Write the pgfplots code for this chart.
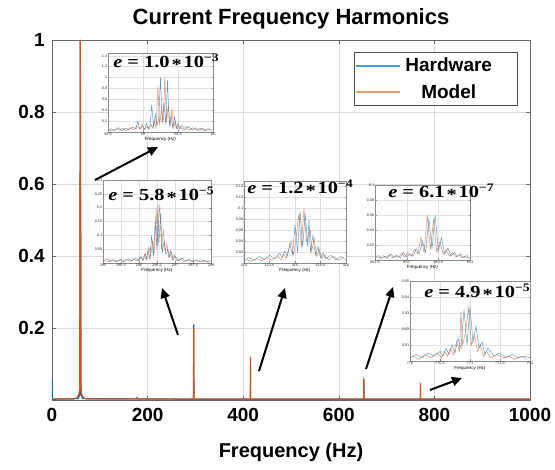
\documentclass[border=0pt]{standalone}
\usepackage{pgfplots}
\pgfplotsset{compat=1.18}
\usepackage{fontspec}
\setmainfont{Liberation Sans}
\newfontfamily\eqfont{Liberation Serif}[FakeStretch=1.2]
\usetikzlibrary{arrows.meta}
\definecolor{mblue}{rgb}{0,0.447,0.741}
\definecolor{lblue}{rgb}{0.25,0.62,0.9}
\definecolor{morange}{rgb}{0.85,0.325,0.098}
\pgfplotsset{
 /pgf/number format/assume math mode=true,
 /pgf/number format/1000 sep={},
 inset/.style={scale only axis, anchor=south west,
   axis background/.style={fill=white},
   grid=major, major grid style={black!12, line width=0.25pt},
   axis line style={black!45, line width=0.35pt},
   tick style={black!45, line width=0.25pt}, major tick length=1.5pt, tick align=inside,
   ticklabel style={font=\fontsize{3.8}{4}\selectfont, text=black!85, inner sep=0.6pt},
   xlabel={Frequency (Hz)},
   xlabel style={font=\fontsize{4.5}{5}\selectfont, inner sep=0.6pt},
   ymin=0, scaled ticks=false,
   tick label style={/pgf/number format/fixed, /pgf/number format/precision=3},
   every axis plot/.append style={line width=0.45pt, opacity=0.7},
 },
}
\newcommand{\eqn}[2]{{\eqfont\bfseries\fontsize{17}{19}\selectfont\textit{e}\hspace{0.3em}=\hspace{0.3em}#1\hspace{0.12em}\raisebox{-0.3ex}{*}\hspace{0.1em}10\raisebox{0.85ex}{\fontsize{11.5}{12}\selectfont −#2}}}
\begin{document}
\begin{tikzpicture}
\path[use as bounding box] (-52pt,-70pt) rectangle (503pt,400pt);
\begin{axis}[at={(0pt,0pt)}, anchor=south west, scale only axis,
  width=478pt, height=360pt,
  xmin=0, xmax=1000, ymin=0, ymax=1,
  xtick={0,200,...,1000}, ytick={0.2,0.4,0.6,0.8,1},
  grid=major, major grid style={black!15, line width=0.5pt},
  axis line style={black!60, line width=0.8pt},
  tick style={black!60, line width=0.6pt}, major tick length=4pt, tick align=inside,
  ticklabel style={font=\bfseries\fontsize{19}{20}\selectfont},
  xticklabel style={anchor=base, yshift=-22pt},
  yticklabel style={anchor=east, inner sep=0pt, xshift=-7pt},
  title={Current Frequency Harmonics},
  title style={font=\bfseries\fontsize{22}{24}\selectfont, at={(axis description cs:0.5,1)}, anchor=south, inner sep=0pt, yshift=5pt},
  xlabel={Frequency (Hz)},
  xlabel style={font=\bfseries\fontsize{20}{22}\selectfont, at={(axis description cs:0.5,0)}, anchor=base, yshift=-58pt},
  legend style={at={(0.975,0.967)}, anchor=north east, draw=black!70, line width=0.6pt,
    font=\bfseries\fontsize{19}{20}\selectfont, inner xsep=1pt, inner ysep=4pt, row sep=7pt, column sep=0pt},
]
\addplot[mblue, line width=1.2pt, legend image code/.code={\draw[draw=lblue, line width=1.4pt] (0pt,0pt) -- (44pt,0pt);}] table[row sep=\\] {
x y\\ 0 0.06\\ 0.6 0.002\\ 55 0.004\\ 58 0.015\\ 59.25 1.0\\ 60.5 0.015\\ 64 0.004\\
296 0.002\\ 296.5 0.21\\ 297 0.002\\ 415 0.002\\ 415.1 0.095\\ 415.3 0.002\\
652 0.002\\ 652.45 0.06\\ 652.8 0.002\\ 770.8 0.002\\ 771 0.034\\ 771.2 0.002\\ 1000 0.002\\
};
\addlegendentry{\makebox[112pt][l]{\makebox[92pt][c]{Hardware}}}
\addplot[morange, line width=1.2pt, legend image code/.code={\draw[draw=morange!60, line width=1.4pt] (0pt,0pt) -- (44pt,0pt);}] table[row sep=\\] {
x y\\ 0 0.003\\ 45 0.003\\ 52 0.006\\ 56 0.015\\ 58 0.03\\ 59.3 1.0\\ 60.7 0.03\\ 62 0.015\\ 66 0.006\\ 72 0.003\\
176 0.003\\ 178 0.007\\ 180 0.003\\ 296.2 0.003\\ 296.55 0.2\\ 296.9 0.003\\
414.9 0.003\\ 415.15 0.12\\ 415.4 0.003\\ 652.1 0.003\\ 652.35 0.06\\ 652.6 0.003\\
770.7 0.003\\ 770.9 0.047\\ 771.1 0.003\\ 1000 0.003\\
};
\addlegendentry{\makebox[112pt][l]{\makebox[92pt][c]{Model}}}
\end{axis}

% inset 1
\begin{axis}[inset, at={(56pt,268pt)}, width=105pt, height=79pt,
  xmin=58.5, xmax=60, ymax=1.45, xtick={58.5,59,59.5,60}, ytick={0.2,0.4,...,1.4}]
\addplot[mblue] table[row sep=\\] {
x y\\ 58.50 0.02\\ 58.55 0.06\\ 58.60 0.03\\ 58.65 0.08\\ 58.70 0.02\\ 58.75 0.07\\ 58.80 0.04\\ 58.85 0.09\\
58.90 0.05\\ 58.925 0.20\\ 58.95 0.06\\ 59.00 0.10\\ 59.025 0.05\\ 59.05 0.16\\ 59.075 0.06\\ 59.10 0.12\\
59.125 0.50\\ 59.15 0.10\\ 59.175 0.32\\ 59.20 0.12\\ 59.225 0.25\\ 59.25 1.00\\ 59.275 0.18\\ 59.30 0.55\\
59.325 0.14\\ 59.35 0.95\\ 59.375 0.12\\ 59.40 0.30\\ 59.425 0.08\\ 59.45 0.28\\ 59.475 0.06\\ 59.50 0.16\\
59.525 0.05\\ 59.55 0.12\\ 59.60 0.04\\ 59.65 0.10\\ 59.70 0.03\\ 59.75 0.08\\ 59.80 0.03\\ 59.85 0.07\\
59.90 0.02\\ 59.95 0.06\\ 60.00 0.03\\
};
\addplot[morange] table[row sep=\\] {
x y\\ 58.5125 0.04\\ 58.5625 0.02\\ 58.6125 0.06\\ 58.6625 0.03\\ 58.7125 0.07\\ 58.7625 0.02\\ 58.8125 0.08\\
58.8625 0.04\\ 58.9125 0.12\\ 58.9625 0.05\\ 58.9875 0.15\\ 59.0125 0.04\\ 59.0625 0.10\\ 59.0875 0.05\\
59.1125 0.14\\ 59.1375 0.07\\ 59.1625 0.20\\ 59.1875 0.08\\ 59.2125 0.85\\ 59.2375 0.12\\ 59.2625 0.40\\
59.2875 0.15\\ 59.3125 1.00\\ 59.3375 0.18\\ 59.3625 0.50\\ 59.3875 0.10\\ 59.4125 0.42\\ 59.4375 0.08\\
59.4625 0.20\\ 59.4875 0.05\\ 59.5125 0.12\\ 59.5625 0.04\\ 59.6125 0.10\\ 59.6625 0.03\\ 59.7125 0.08\\
59.7625 0.03\\ 59.8125 0.07\\ 59.8625 0.02\\ 59.9125 0.06\\ 59.9625 0.02\\
};
\end{axis}

% inset 2
\begin{axis}[inset, at={(51pt,137pt)}, width=108pt, height=83pt,
  xmin=295, xmax=298, ymax=0.3, xtick={295,295.5,...,298}, ytick={0.05,0.1,0.15,0.2,0.25,0.3}]
\addplot[mblue] table[row sep=\\] {
x y\\ 295.00 0.005\\ 295.10 0.015\\ 295.20 0.006\\ 295.30 0.012\\ 295.40 0.005\\ 295.50 0.014\\ 295.60 0.006\\
295.70 0.016\\ 295.80 0.007\\ 295.90 0.018\\ 296.00 0.008\\ 296.05 0.025\\ 296.10 0.010\\ 296.15 0.030\\
296.20 0.012\\ 296.25 0.045\\ 296.30 0.015\\ 296.35 0.10\\ 296.40 0.02\\ 296.45 0.15\\ 296.50 0.05\\
296.525 0.21\\ 296.55 0.06\\ 296.60 0.18\\ 296.65 0.04\\ 296.70 0.08\\ 296.75 0.03\\ 296.80 0.05\\
296.85 0.02\\ 296.90 0.04\\ 296.95 0.012\\ 297.00 0.025\\ 297.10 0.008\\ 297.20 0.018\\ 297.30 0.006\\
297.40 0.014\\ 297.50 0.005\\ 297.60 0.012\\ 297.70 0.005\\ 297.80 0.010\\ 297.90 0.004\\ 298.00 0.008\\
};
\addplot[morange] table[row sep=\\] {
x y\\ 295.05 0.008\\ 295.15 0.004\\ 295.25 0.012\\ 295.35 0.005\\ 295.45 0.010\\ 295.55 0.004\\ 295.65 0.012\\
295.75 0.006\\ 295.85 0.014\\ 295.95 0.008\\ 296.075 0.02\\ 296.125 0.010\\ 296.175 0.035\\ 296.225 0.012\\
296.275 0.06\\ 296.325 0.02\\ 296.375 0.08\\ 296.425 0.04\\ 296.475 0.20\\ 296.50 0.06\\ 296.575 0.21\\
296.625 0.05\\ 296.675 0.12\\ 296.725 0.04\\ 296.775 0.07\\ 296.825 0.02\\ 296.875 0.045\\ 296.925 0.01\\
296.975 0.03\\ 297.05 0.008\\ 297.15 0.015\\ 297.25 0.005\\ 297.35 0.012\\ 297.45 0.005\\ 297.55 0.010\\
297.65 0.004\\ 297.75 0.009\\ 297.85 0.004\\ 297.95 0.007\\
};
\end{axis}

% inset 3
\begin{axis}[inset, at={(192pt,137pt)}, width=102pt, height=82pt,
  xmin=414, xmax=416, ymax=0.15, xtick={414,414.5,...,416}, ytick={0.02,0.04,...,0.14}]
\addplot[mblue] table[row sep=\\] {
x y\\ 414.00 0.004\\ 414.10 0.010\\ 414.20 0.005\\ 414.30 0.012\\ 414.40 0.006\\ 414.50 0.014\\ 414.60 0.008\\
414.70 0.018\\ 414.75 0.010\\ 414.80 0.022\\ 414.85 0.012\\ 414.90 0.035\\ 414.95 0.015\\ 415.00 0.07\\
415.05 0.02\\ 415.10 0.095\\ 415.15 0.03\\ 415.20 0.09\\ 415.25 0.03\\ 415.275 0.08\\ 415.30 0.02\\
415.35 0.05\\ 415.40 0.015\\ 415.45 0.03\\ 415.50 0.010\\ 415.55 0.018\\ 415.60 0.008\\ 415.70 0.014\\
415.80 0.006\\ 415.90 0.012\\ 416.00 0.005\\
};
\addplot[morange] table[row sep=\\] {
x y\\ 414.05 0.006\\ 414.15 0.003\\ 414.25 0.008\\ 414.35 0.004\\ 414.45 0.010\\ 414.55 0.005\\ 414.65 0.012\\
414.725 0.006\\ 414.775 0.016\\ 414.825 0.008\\ 414.875 0.025\\ 414.925 0.04\\ 414.975 0.015\\ 415.025 0.05\\
415.075 0.09\\ 415.125 0.03\\ 415.175 0.10\\ 415.225 0.04\\ 415.30 0.06\\ 415.325 0.02\\ 415.375 0.045\\
415.425 0.012\\ 415.475 0.025\\ 415.525 0.008\\ 415.575 0.015\\ 415.65 0.006\\ 415.75 0.012\\ 415.85 0.005\\
415.95 0.010\\
};
\end{axis}

% inset 4
\begin{axis}[inset, at={(323pt,140pt)}, width=95pt, height=75pt,
  xmin=651.5, xmax=653, ymax=0.1, xtick={651.5,652,652.5,653}, ytick={0.02,0.04,...,0.1}]
\addplot[mblue] table[row sep=\\] {
x y\\ 651.50 0.003\\ 651.55 0.006\\ 651.60 0.002\\ 651.65 0.005\\ 651.70 0.003\\ 651.75 0.008\\ 651.80 0.003\\
651.85 0.006\\ 651.90 0.003\\ 651.95 0.010\\ 652.00 0.004\\ 652.05 0.008\\ 652.10 0.005\\ 652.15 0.015\\
652.20 0.008\\ 652.25 0.025\\ 652.30 0.010\\ 652.35 0.055\\ 652.40 0.015\\ 652.45 0.060\\ 652.50 0.012\\
652.55 0.030\\ 652.60 0.008\\ 652.65 0.016\\ 652.70 0.005\\ 652.75 0.010\\ 652.80 0.004\\ 652.85 0.008\\
652.90 0.003\\ 652.95 0.006\\ 653.00 0.002\\
};
\addplot[morange] table[row sep=\\] {
x y\\ 651.525 0.004\\ 651.575 0.002\\ 651.625 0.006\\ 651.675 0.003\\ 651.725 0.007\\ 651.775 0.003\\
651.825 0.006\\ 651.875 0.004\\ 651.925 0.009\\ 651.975 0.004\\ 652.025 0.010\\ 652.075 0.005\\ 652.125 0.014\\
652.175 0.008\\ 652.225 0.030\\ 652.275 0.010\\ 652.325 0.060\\ 652.375 0.014\\ 652.425 0.055\\ 652.475 0.010\\
652.525 0.025\\ 652.575 0.008\\ 652.625 0.014\\ 652.675 0.005\\ 652.725 0.010\\ 652.775 0.004\\ 652.825 0.007\\
652.875 0.003\\ 652.925 0.005\\ 652.975 0.002\\
};
\end{axis}

% inset 5
\begin{axis}[inset, at={(358pt,39pt)}, width=120pt, height=80pt,
  xmin=770, xmax=772, ymax=0.05, xtick={770,770.5,...,772}, ytick={0.01,0.02,...,0.05}]
\addplot[mblue] table[row sep=\\] {
x y\\ 770.00 0.002\\ 770.10 0.004\\ 770.20 0.002\\ 770.30 0.005\\ 770.40 0.003\\ 770.50 0.006\\ 770.55 0.003\\
770.60 0.008\\ 770.65 0.004\\ 770.70 0.010\\ 770.75 0.005\\ 770.80 0.014\\ 770.85 0.008\\ 770.90 0.032\\
770.95 0.010\\ 771.00 0.034\\ 771.05 0.012\\ 771.10 0.022\\ 771.15 0.008\\ 771.20 0.012\\ 771.25 0.004\\
771.30 0.008\\ 771.40 0.003\\ 771.50 0.005\\ 771.60 0.002\\ 771.70 0.004\\ 771.80 0.002\\ 771.90 0.003\\
772.00 0.002\\
};
\addplot[morange] table[row sep=\\] {
x y\\ 770.05 0.003\\ 770.15 0.001\\ 770.25 0.004\\ 770.35 0.002\\ 770.45 0.005\\ 770.525 0.002\\ 770.575 0.006\\
770.625 0.003\\ 770.675 0.008\\ 770.725 0.004\\ 770.775 0.012\\ 770.825 0.006\\ 770.85 0.031\\ 770.875 0.010\\
770.925 0.018\\ 770.975 0.033\\ 771.025 0.010\\ 771.075 0.016\\ 771.125 0.006\\ 771.175 0.010\\ 771.225 0.003\\
771.275 0.006\\ 771.35 0.002\\ 771.45 0.004\\ 771.55 0.002\\ 771.65 0.003\\ 771.75 0.001\\ 771.85 0.003\\
771.95 0.001\\
};
\end{axis}

% equations
\node at (114pt,338pt) {\eqn{1.0}{3}};
\node at (109pt,205pt) {\eqn{5.8}{5}};
\node at (248pt,212pt) {\eqn{1.2}{4}};
\node at (389pt,208pt) {\eqn{6.1}{7}};
\node at (425pt,108pt) {\eqn{4.9}{5}};

% arrows
\begin{scope}[line width=2pt, -{Triangle[length=10pt,width=9pt]}]
\draw (43pt,220pt) -- (106pt,253pt);
\draw (126pt,65pt) -- (110pt,112pt);
\draw (207pt,29pt) -- (233pt,112pt);
\draw (314pt,31pt) -- (341pt,113pt);
\draw (378pt,10pt) -- (410pt,22pt);
\end{scope}
\end{tikzpicture}
\end{document}
